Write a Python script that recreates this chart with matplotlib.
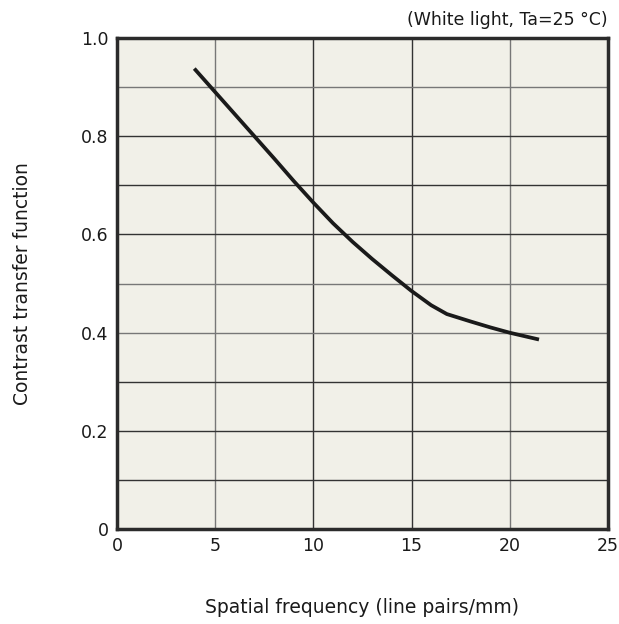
import matplotlib
matplotlib.use('Agg')
import matplotlib.pyplot as plt

# Contrast transfer function vs spatial frequency
freq = [4, 5, 6, 7, 8, 9, 10, 11, 12, 13, 14, 15, 16, 16.8, 18, 19, 20, 21.4]
ctf = [0.935, 0.89, 0.845, 0.80, 0.755, 0.709, 0.665, 0.623, 0.585, 0.55,
       0.517, 0.485, 0.456, 0.438, 0.423, 0.411, 0.40, 0.387]

x_ticks = [0, 5, 10, 15, 20, 25]
y_ticks = [0, 0.2, 0.4, 0.6, 0.8, 1.0]
y_tick_labels = ['0', '0.2', '0.4', '0.6', '0.8', '1.0']

plt.rcParams['font.family'] = ['DejaVu Sans']

fig = plt.figure(figsize=(6.19, 6.24), dpi=100)
ax = fig.add_axes([0.189, 0.152, 0.793, 0.787])
ax.set_facecolor('#f1f0e8')

# grid
for gx in [5, 10, 15, 20]:
    c = '#777777' if gx in (5, 20) else '#333333'
    ax.axvline(gx, color=c, lw=1.0, zorder=1)
for i in range(1, 10):
    gy = i / 10
    c = '#777777' if i in (5, 4, 9) else '#333333'
    ax.axhline(gy, color=c, lw=1.0, zorder=1)

ax.plot(freq, ctf, color='#1a1a1a', lw=2.7, zorder=3, solid_joinstyle='round')

ax.set_xlim(0, 25)
ax.set_ylim(0, 1.0)
ax.set_xticks(x_ticks)
ax.set_yticks(y_ticks)
ax.set_yticklabels(y_tick_labels)
ax.tick_params(length=0, labelsize=12.5, colors='#1a1a1a', pad=6)

for s in ax.spines.values():
    s.set_linewidth(2.5)
    s.set_color('#2b2b2b')

fig.text(0.982, 0.968, '(White light, Ta=25 °C)', ha='right', va='center',
         fontsize=12.5, color='#1a1a1a')
fig.text(0.585, 0.026, 'Spatial frequency (line pairs/mm)', ha='center', va='center',
         fontsize=13.5, color='#1a1a1a')
fig.text(0.036, 0.545, 'Contrast transfer function', ha='center', va='center',
         rotation=90, fontsize=13.5, color='#1a1a1a')

fig.savefig('out.png', dpi=100)
